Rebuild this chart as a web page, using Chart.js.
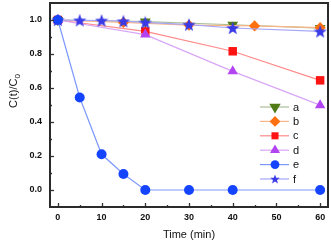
<!DOCTYPE html>
<html lang="en">
<head>
    <meta charset="UTF-8">
    <script src="https://cdn.jsdelivr.net/npm/chart.js@4.4.1/dist/chart.umd.min.js"></script>
    <title>C(t)/C0 vs Time</title>
    <style>
        html, body {
            margin: 0;
            padding: 0;
            background: #fff;
        }
        #chart-container {
            width: 331px;
            height: 244px;
        }
    </style>
</head>
<body>
    <div id="chart-container">
        <canvas id="degradationChart" width="331" height="244"></canvas>
    </div>
    <script>
        // time points (min) for each series
        const timeA = [0, 20, 40, 60];
        const timeB = [0, 15, 30, 45, 60];
        const timeC = [0, 20, 40, 60];
        const timeD = [0, 20, 40, 60];
        const timeE = [0, 5, 10, 15, 20, 30, 40, 60];
        const timeF = [0, 5, 10, 15, 20, 30, 40, 60];

        // C(t)/C0 values
        const valuesA = [1.0, 0.99, 0.972, 0.952];
        const valuesB = [1.0, 0.986, 0.97, 0.965, 0.955];
        const valuesC = [1.0, 0.933, 0.816, 0.645];
        const valuesD = [1.0, 0.914, 0.698, 0.499];
        const valuesE = [1.0, 0.544, 0.21, 0.094, 0.0, 0.0, 0.0, 0.0];
        const valuesF = [1.0, 0.998, 0.997, 0.993, 0.986, 0.973, 0.953, 0.933];

        const seriesLabels = ['a', 'b', 'c', 'd', 'e', 'f'];
        const xTickValues = [0, 10, 20, 30, 40, 50, 60];
        const yTickValues = [0.0, 0.2, 0.4, 0.6, 0.8, 1.0];

        const FONT = "'Liberation Sans', Arial, sans-serif";

        function makeStar(size, color) {
            const c = document.createElement('canvas');
            c.width = size;
            c.height = size;
            const g = c.getContext('2d');
            const cx = size / 2, cy = size / 2 + size * 0.04;
            const outer = size / 2, inner = outer * 0.42;
            g.beginPath();
            for (let i = 0; i < 10; i++) {
                const r = i % 2 === 0 ? outer : inner;
                const a = -Math.PI / 2 + i * Math.PI / 5;
                g.lineTo(cx + r * Math.cos(a), cy + r * Math.sin(a));
            }
            g.closePath();
            g.fillStyle = color;
            g.fill();
            return c;
        }

        const toPoints = (xs, ys) => xs.map((x, i) => ({ x: x, y: ys[i] }));

        const starBig = makeStar(14, '#3a3ae6');
        const starSmall = makeStar(10, '#3a3ae6');

        const datasets = [
            {
                label: seriesLabels[0], data: toPoints(timeA, valuesA),
                borderColor: '#a9bf95', backgroundColor: '#4f7a16', pointBorderColor: '#4f7a16',
                pointStyle: 'triangle', rotation: 180, pointRadius: 6.2, order: 6,
                legendRadius: 6.6
            },
            {
                label: seriesLabels[1], data: toPoints(timeB, valuesB),
                borderColor: '#f9b488', backgroundColor: '#ff700f', pointBorderColor: '#ff700f',
                pointStyle: 'rectRot', rotation: 0, pointRadius: 5.6, order: 5,
                legendRadius: 5.4
            },
            {
                label: seriesLabels[2], data: toPoints(timeC, valuesC),
                borderColor: '#ff8a8a', backgroundColor: '#ff1414', pointBorderColor: '#ff1414',
                pointStyle: 'rect', rotation: 0, pointRadius: 6, order: 4,
                legendRadius: 5
            },
            {
                label: seriesLabels[3], data: toPoints(timeD, valuesD),
                borderColor: '#d8a6f7', backgroundColor: '#b244f2', pointBorderColor: '#b244f2',
                pointStyle: 'triangle', rotation: 0, pointRadius: 6, order: 3,
                legendRadius: 5.8
            },
            {
                label: seriesLabels[4], data: toPoints(timeE, valuesE),
                borderColor: '#7d98fb', backgroundColor: '#1544ff', pointBorderColor: '#1544ff',
                pointStyle: 'circle', rotation: 0, pointRadius: 5, order: 1,
                legendRadius: 4.4
            },
            {
                label: seriesLabels[5], data: toPoints(timeF, valuesF),
                borderColor: '#a6a6f8', backgroundColor: '#3a3ae6', pointBorderColor: '#3a3ae6',
                pointStyle: starBig, rotation: 0, pointRadius: 7, order: 2,
                legendStyle: starSmall
            }
        ].map(ds => Object.assign({
            borderWidth: 1.2,
            pointBorderWidth: 0,
            pointBackgroundColor: ds.backgroundColor,
            fill: false,
            tension: 0
        }, ds));

        // frame, inward ticks, y title with subscript and the legend
        const decorations = {
            id: 'decorations',
            afterDraw(chart) {
                const ctx = chart.ctx;
                const area = chart.chartArea;
                const xs = chart.scales.x, ys = chart.scales.y;
                ctx.save();
                ctx.strokeStyle = '#333';
                ctx.lineWidth = 1.3;
                for (let v = 0; v <= 60; v += 5) {
                    const px = Math.round(xs.getPixelForValue(v)) + 0.5;
                    const len = v % 10 === 0 ? 4 : 2;
                    ctx.beginPath();
                    ctx.moveTo(px, area.bottom);
                    ctx.lineTo(px, area.bottom - len);
                    ctx.stroke();
                }
                for (let i = 0; i <= 10; i++) {
                    const v = i / 10;
                    const py = Math.round(ys.getPixelForValue(v)) + 0.5;
                    const len = i % 2 === 0 ? 4 : 2;
                    ctx.beginPath();
                    ctx.moveTo(area.left, py);
                    ctx.lineTo(area.left + len, py);
                    ctx.stroke();
                }
                ctx.lineWidth = 2;
                ctx.strokeStyle = '#2b2b2b';
                ctx.strokeRect(area.left, area.top, area.right - area.left, area.bottom - area.top);

                // y axis title
                ctx.translate(14, 91);
                ctx.rotate(-Math.PI / 2);
                ctx.fillStyle = '#111';
                ctx.textBaseline = 'middle';
                ctx.font = '11px ' + FONT;
                const main = 'C(t)/C';
                const w1 = ctx.measureText(main).width;
                ctx.font = '8px ' + FONT;
                const w2 = ctx.measureText('0').width;
                const start = -(w1 + w2) / 2;
                ctx.font = '11px ' + FONT;
                ctx.textAlign = 'left';
                ctx.fillText(main, start, 0);
                ctx.font = '8px ' + FONT;
                ctx.fillText('0', start + w1, 4);
                ctx.restore();

                // legend
                ctx.save();
                const lx0 = 260, lx1 = 289, mx = 275;
                chart.data.datasets.forEach((ds, i) => {
                    const y = 107 + i * 14.4;
                    ctx.strokeStyle = ds.borderColor;
                    ctx.lineWidth = 1.2;
                    ctx.beginPath();
                    ctx.moveTo(lx0, y);
                    ctx.lineTo(lx1, y);
                    ctx.stroke();
                    ctx.fillStyle = ds.backgroundColor;
                    ctx.strokeStyle = ds.backgroundColor;
                    ctx.lineWidth = 0;
                    Chart.helpers.drawPoint(ctx, {
                        pointStyle: ds.legendStyle || ds.pointStyle,
                        rotation: ds.rotation,
                        radius: ds.legendRadius || 5,
                        borderWidth: 0
                    }, mx, y);
                    ctx.fillStyle = '#111';
                    ctx.font = '11px ' + FONT;
                    ctx.textAlign = 'left';
                    ctx.textBaseline = 'middle';
                    ctx.fillText(ds.label, 293, y + 0.5);
                });
                ctx.restore();
            }
        };

        const ctx = document.getElementById('degradationChart').getContext('2d');
        new Chart(ctx, {
            type: 'line',
            data: { datasets },
            plugins: [decorations],
            options: {
                responsive: false,
                animation: false,
                devicePixelRatio: 1,
                layout: { autoPadding: false, padding: { top: 3, right: 3, left: 0, bottom: 0 } },
                plugins: {
                    legend: { display: false },
                    tooltip: { enabled: false }
                },
                scales: {
                    x: {
                        type: 'linear',
                        min: -1.8,
                        max: 61.8,
                        afterFit: scale => {
                            scale.height = 37;
                            scale.paddingLeft = 0;
                            scale.paddingRight = 0;
                        },
                        afterBuildTicks: scale => { scale.ticks = xTickValues.map(v => ({ value: v })); },
                        grid: { display: false, drawTicks: false },
                        border: { display: false },
                        ticks: {
                            padding: 5,
                            color: '#111',
                            font: { family: FONT, size: 9, weight: 'bold' },
                            maxRotation: 0,
                            callback: v => String(v)
                        },
                        title: {
                            display: true,
                            text: 'Time (min)',
                            color: '#111',
                            font: { family: FONT, size: 11 },
                            padding: { top: 0, bottom: 2 }
                        }
                    },
                    y: {
                        type: 'linear',
                        min: -0.1,
                        max: 1.1,
                        afterFit: scale => {
                            scale.width = 50;
                            scale.paddingTop = 0;
                            scale.paddingBottom = 0;
                        },
                        afterBuildTicks: scale => { scale.ticks = yTickValues.map(v => ({ value: v })); },
                        grid: { display: false, drawTicks: false },
                        border: { display: false },
                        ticks: {
                            padding: 8,
                            color: '#111',
                            font: { family: FONT, size: 9, weight: 'bold' },
                            callback: v => Number(v).toFixed(1)
                        }
                    }
                }
            }
        });
    </script>
</body>
</html>
